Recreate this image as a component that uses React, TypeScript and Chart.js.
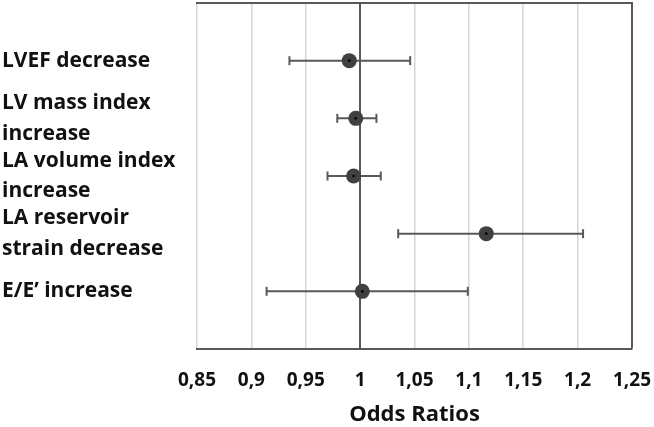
import React, { useEffect, useRef } from "react";
import { Chart, registerables } from "chart.js";

Chart.register(...registerables);

const categories: string[][] = [
  ["LVEF decrease"],
  ["LV mass index", "increase"],
  ["LA volume index", "increase"],
  ["LA reservoir", "strain decrease"],
  ["E/E\u2019 increase"],
];
const rowPositions = [1, 2, 3, 4, 5];
const oddsRatios = [0.99, 0.996, 0.994, 1.116, 1.002];
const lowerCI = [0.935, 0.979, 0.97, 1.035, 0.914];
const upperCI = [1.046, 1.015, 1.019, 1.205, 1.099];
const xTickLabels = ["0,85", "0,9", "0,95", "1", "1,05", "1,1", "1,15", "1,2", "1,25"];

const DARK = "#595959";
const LIGHT = "#d6d6d6";
const FONT = "'Open Sans', sans-serif";

export default function App() {
  const ref = useRef<HTMLCanvasElement | null>(null);

  useEffect(() => {
    if (!ref.current) return;
    const errorSets: any[] = rowPositions.map((y, i) => ({
      type: "line",
      data: [
        { x: lowerCI[i], y },
        { x: upperCI[i], y },
      ],
      borderColor: DARK,
      borderWidth: 2,
      pointStyle: "line",
      rotation: 90,
      pointRadius: 4.5,
      pointBorderWidth: 2,
      pointBorderColor: DARK,
      pointBackgroundColor: DARK,
      order: 3,
    }));
    const chart = new Chart(ref.current, {
      type: "scatter",
      data: {
        datasets: [
          {
            type: "scatter",
            data: rowPositions.map((y, i) => ({ x: oddsRatios[i], y })),
            pointRadius: 1.3,
            pointBackgroundColor: "#000",
            pointBorderWidth: 0,
            order: 1,
          } as any,
          {
            type: "scatter",
            data: rowPositions.map((y, i) => ({ x: oddsRatios[i], y })),
            pointRadius: 7.5,
            pointBackgroundColor: "#404040",
            pointBorderWidth: 0,
            order: 2,
          } as any,
          ...errorSets,
        ],
      },
      options: {
        animation: false,
        responsive: true,
        maintainAspectRatio: false,
        layout: { autoPadding: false, padding: { left: 2, right: 22, top: 3, bottom: 0 } },
        plugins: { legend: { display: false }, tooltip: { enabled: false } },
        scales: {
          x: {
            type: "linear",
            position: "bottom",
            min: 0.85,
            max: 1.25,
            ticks: {
              stepSize: 0.05,
              padding: 20,
              color: "#111",
              font: { family: FONT, size: 19, weight: "bold" },
              callback: (_v: any, i: number) => xTickLabels[i],
            },
            grid: {
              drawTicks: false,
              color: (ctx: any) => {
                const v = ctx.tick ? ctx.tick.value : 0;
                return Math.abs(v - 1) < 1e-6 || Math.abs(v - 1.25) < 1e-6 ? DARK : LIGHT;
              },
              lineWidth: (ctx: any) => {
                const v = ctx.tick ? ctx.tick.value : 0;
                return Math.abs(v - 1) < 1e-6 || Math.abs(v - 1.25) < 1e-6 ? 2 : 1.5;
              },
            },
            border: { display: true, color: DARK, width: 2 },
            title: {
              display: true,
              text: "Odds Ratios",
              color: "#111",
              font: { family: FONT, size: 22, weight: "bold", lineHeight: 1.1 },
              padding: { top: 0, bottom: 0 },
            },
            afterFit: (s: any) => {
              s.height = 78;
              s.paddingLeft = 0;
              s.paddingRight = 0;
            },
          },
          x2: {
            type: "linear",
            position: "top",
            min: 0.85,
            max: 1.25,
            ticks: { display: false, padding: 0 },
            grid: { display: false, drawTicks: false, tickLength: 0 },
            border: { display: true, color: DARK, width: 2 },
            afterFit: (s: any) => {
              s.height = 0;
              s.paddingLeft = 0;
              s.paddingRight = 0;
            },
          },
          y: {
            type: "linear",
            position: "left",
            reverse: true,
            min: 0,
            max: 6,
            afterBuildTicks: (s: any) => {
              s.ticks = rowPositions.map((v) => ({ value: v }));
            },
            ticks: {
              crossAlign: "far",
              color: "#111",
              font: { family: FONT, size: 21, weight: "bold", lineHeight: 1.45 },
              callback: (v: any) => categories[Number(v) - 1],
            },
            grid: { display: false, drawTicks: false },
            border: { display: false },
            afterFit: (s: any) => {
              s.width = 195;
              s.paddingTop = 0;
              s.paddingBottom = 0;
            },
          },
        },
      } as any,
    });
    return () => chart.destroy();
  }, []);

  return (
    <div style={{ position: "absolute", left: 0, top: 0, width: 654, height: 427, background: "#fff" }}>
      <canvas ref={ref} />
    </div>
  );
}
